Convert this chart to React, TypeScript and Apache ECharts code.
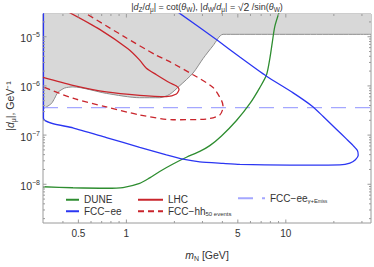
import React, { useEffect, useRef } from 'react';
import * as echarts from 'echarts';

// axis ranges (GeV, GeV^-1)
const X_MIN = 0.3;
const X_MAX = 34.2;
const Y_MIN = 1.63e-9;
const Y_MAX = 2.9e-5;

// ticks
const xMajorTicks = [0.5, 1, 5, 10];
const xTickLabels = ['0.5', '1', '5', '10'];
const xMinorTicks = [0.4, 0.6, 0.7, 0.8, 0.9, 2, 3, 4, 6, 7, 8, 9, 20, 30];
const yMajorTicks = [1e-8, 1e-7, 1e-6, 1e-5];
const yTickExponents = ['−8', '−7', '−6', '−5'];
const yMinorMultipliers = [2, 3, 4, 5, 6, 7, 8, 9];
const yMinorDecades = [1e-9, 1e-8, 1e-7, 1e-6, 1e-5];

// excluded (grey) region boundary
const excludedMass = [0.3, 0.338, 0.355, 0.372, 0.41, 0.462, 0.749, 1.212, 1.618, 1.87, 2.161, 2.619, 3.026, 3.497, 4.042, 34.2];
const excludedCoupling = [3.41e-7, 4.35e-7, 5.62e-7, 7.38e-7, 9.05e-7, 9.55e-7, 7.05e-7, 5.75e-7, 5.75e-7, 6.75e-7, 1.01e-6, 1.83e-6, 3.6e-6, 6.59e-6, 1.12e-5, 1.12e-5];

// LHC
const lhcMass = [0.428, 0.68, 1.023, 1.212, 1.335, 1.543, 1.87, 2.06, 2.139, 2.06, 1.783, 1.212, 0.749, 0.462, 0.3];
const lhcCoupling = [3.25e-5, 1.41e-5, 5.67e-6, 3.34e-6, 2.29e-6, 1.69e-6, 1.16e-6, 1.0e-6, 8.58e-7, 6.84e-7, 6.07e-7, 6.44e-7, 7.55e-7, 1.03e-6, 1.49e-6];

// FCC-hh 50 events
const fcchhMass = [0.509, 0.952, 1.543, 1.87, 2.619, 3.497, 3.948, 4.042, 3.853, 3.178, 1.961, 1.212, 0.749, 0.462, 0.3];
const fcchhCoupling = [3.56e-5, 1.04e-5, 4.19e-6, 3.11e-6, 1.69e-6, 9.26e-7, 5.07e-7, 3.74e-7, 2.57e-7, 2.12e-7, 2.05e-7, 2.57e-7, 3.74e-7, 5.62e-7, 9.55e-7];

// DUNE
const duneMass = [0.3, 0.462, 0.749, 0.952, 1.212, 1.401, 1.618, 1.961, 2.38, 2.885, 3.334, 3.948, 4.904, 5.943, 6.867, 7.566, 7.936, 8.228, 8.53, 9.17];
const duneCoupling = [8.89e-9, 8.49e-9, 8.3e-9, 8.57e-9, 1.04e-8, 1.35e-8, 1.82e-8, 2.58e-8, 3.54e-8, 4.65e-8, 6.1e-8, 9.6e-8, 1.98e-7, 4.35e-7, 9.26e-7, 1.69e-6, 3.6e-6, 7.8e-6, 1.63e-5, 3.48e-5];

// FCC-ee
const fcceeMass = [0.302, 0.302, 0.462, 0.749, 1.212, 1.783, 2.266, 2.885, 4.042, 5.145, 10.6, 21.83, 25.22, 27.31, 28.44, 28.11, 26.45, 24.05, 20.82, 17.15, 14.84, 11.11, 7.566, 5.145, 3.758, 2.161, 2.04];
const fcceeCoupling = [5e-5, 2.2e-7, 1.4e-7, 8.89e-8, 5.65e-8, 3.96e-8, 3.24e-8, 2.86e-8, 2.66e-8, 2.54e-8, 2.46e-8, 2.49e-8, 2.7e-8, 3.16e-8, 3.88e-8, 4.86e-8, 6.1e-8, 8.27e-8, 1.3e-7, 2.38e-7, 3.74e-7, 7.22e-7, 1.57e-6, 3.86e-6, 8.26e-6, 2.99e-5, 3.32e-5];

// FCC-ee gamma + E_miss
const fcceeGammaMass = [0.3, 34.2];
const fcceeGammaCoupling = [3.62e-7, 3.62e-7];

const FONT = '"Liberation Sans", Arial, Helvetica, sans-serif';
const AXIS_COLOR = '#9a9a9a';
const LABEL_COLOR = '#333333';
const RED = '#c9252c';
const GREEN = '#2e8d30';
const BLUE = '#2b36f2';
const LIGHT_BLUE = '#a4a7ff';

const zip = (a: number[], b: number[]) => a.map((v, i) => [v, b[i]]);

const legendNames: Record<string, string> = {
  'DUNE': 'DUNE',
  'FCC−ee': 'FCC−ee',
  'LHC': 'LHC',
  'FCC−hh50': 'FCC−hh{sub|50 events}',
  'FCC−eeγ': 'FCC−ee{sub|γ+E}{ss|miss}',
};

const legendCommon = {
  orient: 'vertical',
  padding: 0,
  itemGap: 0,
  itemHeight: 8,
  itemStyle: { opacity: 0, color: 'transparent', borderWidth: 0 },
  formatter: (n: string) => legendNames[n] ?? n,
  textStyle: {
    fontSize: 10,
    lineHeight: 11.5,
    color: LABEL_COLOR,
    fontFamily: FONT,
    rich: {
      sub: { fontSize: 6, lineHeight: 6, verticalAlign: 'bottom', fontFamily: FONT, color: LABEL_COLOR },
      ss: { fontSize: 4.5, lineHeight: 4, verticalAlign: 'bottom', fontFamily: FONT, color: LABEL_COLOR },
    },
  },
};

const xTickSeries = (values: number[], len: number, labels?: string[]) => ({
  type: 'custom',
  silent: true,
  clip: false,
  z: 10,
  data: values.map((v) => [v, Y_MIN]),
  renderItem: (params: any, api: any) => {
    const v = api.value(0);
    const b = api.coord([v, Y_MIN]);
    const t = api.coord([v, Y_MAX]);
    const children: any[] = [
      { type: 'line', shape: { x1: b[0], y1: b[1], x2: b[0], y2: b[1] - len }, style: { stroke: AXIS_COLOR, lineWidth: 1 } },
      { type: 'line', shape: { x1: t[0], y1: t[1], x2: t[0], y2: t[1] + len }, style: { stroke: AXIS_COLOR, lineWidth: 1 } },
    ];
    if (labels) {
      children.push({
        type: 'text',
        x: b[0],
        y: b[1] + 5,
        style: { text: labels[params.dataIndex], align: 'center', verticalAlign: 'top', fontSize: 10, fontFamily: FONT, fill: LABEL_COLOR },
      });
    }
    return { type: 'group', children };
  },
});

const yTickSeries = (values: number[], len: number, exps?: string[]) => ({
  type: 'custom',
  silent: true,
  clip: false,
  z: 10,
  data: values.map((v) => [X_MIN, v]),
  renderItem: (params: any, api: any) => {
    const v = api.value(1);
    const l = api.coord([X_MIN, v]);
    const r = api.coord([X_MAX, v]);
    const children: any[] = [
      { type: 'line', shape: { x1: l[0], y1: l[1], x2: l[0] + len, y2: l[1] }, style: { stroke: AXIS_COLOR, lineWidth: 1 } },
      { type: 'line', shape: { x1: r[0], y1: r[1], x2: r[0] - len, y2: r[1] }, style: { stroke: AXIS_COLOR, lineWidth: 1 } },
    ];
    if (exps) {
      children.push({
        type: 'text',
        x: l[0] - 3,
        y: l[1] + 1.5,
        style: {
          text: `{b|10}{s|${exps[params.dataIndex]}}`,
          align: 'right',
          verticalAlign: 'middle',
          rich: {
            b: { fontSize: 10.5, lineHeight: 14, fontFamily: FONT, fill: LABEL_COLOR },
            s: { fontSize: 7, lineHeight: 7, verticalAlign: 'top', fontFamily: FONT, fill: LABEL_COLOR },
          },
        },
      });
    }
    return { type: 'group', children };
  },
});

const yMinorTicks: number[] = [];
yMinorDecades.forEach((d) => yMinorMultipliers.forEach((k) => {
  const v = k * d;
  if (v > Y_MIN && v < Y_MAX) yMinorTicks.push(v);
}));

const curve = (name: string, data: number[][], color: string, dashed?: number[], smooth = 0.25) => ({
  name,
  type: 'line',
  data,
  symbol: 'none',
  smooth,
  z: 3,
  lineStyle: { color, width: 1.3, type: dashed ?? 'solid' },
  itemStyle: { color },
});

const option: any = {
  animation: false,
  title: {
    text: '|{i|d}{sub|Z}/{i|d}{sub|μ}| = cot({i|θ}{sub|W}), |{i|d}{sub|W}/{i|d}{sub|μ}| = {rt|√2} /sin({i|θ}{sub|W})',
    left: 207,
    top: 0,
    textAlign: 'center',
    padding: 0,
    textStyle: {
      fontSize: 9,
      lineHeight: 13,
      fontWeight: 'normal',
      color: LABEL_COLOR,
      fontFamily: FONT,
      rich: {
        i: { fontSize: 9, fontStyle: 'italic', lineHeight: 13, fontFamily: FONT, color: LABEL_COLOR },
        sub: { fontSize: 6.5, lineHeight: 6, verticalAlign: 'bottom', fontFamily: FONT, color: LABEL_COLOR },
        rt: { fontSize: 10.5, lineHeight: 13, fontFamily: FONT, color: LABEL_COLOR },
      },
    },
  },
  grid: { left: 43, right: 3, top: 14, bottom: 37, show: true, borderColor: AXIS_COLOR, borderWidth: 1, backgroundColor: 'transparent' },
  xAxis: {
    type: 'log',
    logBase: 10,
    min: X_MIN,
    max: X_MAX,
    axisLine: { show: false },
    axisTick: { show: false },
    axisLabel: { show: false },
    splitLine: { show: false },
    name: '{i|m}{sub|N} [GeV]',
    nameLocation: 'middle',
    nameGap: 25,
    nameTextStyle: {
      fontSize: 10.5,
      lineHeight: 14,
      color: LABEL_COLOR,
      fontFamily: FONT,
      verticalAlign: 'top',
      rich: {
        i: { fontSize: 10.5, fontStyle: 'italic', lineHeight: 14, fontFamily: FONT, color: LABEL_COLOR },
        sub: { fontSize: 7, lineHeight: 7, verticalAlign: 'bottom', fontFamily: FONT, color: LABEL_COLOR },
      },
    },
  },
  yAxis: {
    type: 'log',
    logBase: 10,
    min: Y_MIN,
    max: Y_MAX,
    axisLine: { show: false },
    axisTick: { show: false },
    axisLabel: { show: false },
    splitLine: { show: false },
  },
  graphic: [
    {
      type: 'text',
      x: 10,
      y: 106,
      rotation: Math.PI / 2,
      style: {
        text: '|{i|d}{sub|μ}|, GeV⁻¹',
        align: 'center',
        verticalAlign: 'middle',
        fontSize: 10.5,
        lineHeight: 14,
        fontFamily: FONT,
        fill: LABEL_COLOR,
        rich: {
          i: { fontSize: 10.5, fontStyle: 'italic', lineHeight: 14, fontFamily: FONT, fill: LABEL_COLOR },
          sub: { fontSize: 7, lineHeight: 7, verticalAlign: 'bottom', fontFamily: FONT, fill: LABEL_COLOR },
        },
      },
    },
  ],
  legend: [
    { ...legendCommon, left: 65, top: 194, itemWidth: 13, data: ['DUNE', 'FCC−ee'] },
    { ...legendCommon, left: 137, top: 194, itemWidth: 25, data: ['LHC', 'FCC−hh50'] },
    { ...legendCommon, left: 237, top: 192.5, itemWidth: 27, data: ['FCC−eeγ'] },
  ],
  series: [
    {
      name: 'excluded',
      type: 'line',
      data: zip(excludedMass, excludedCoupling),
      symbol: 'none',
      smooth: 0.25,
      z: 1,
      silent: true,
      lineStyle: { color: '#8c8c8c', width: 1 },
      areaStyle: { color: '#d8d8d8', opacity: 1, origin: 'end' },
    },
    curve('FCC−eeγ', zip(fcceeGammaMass, fcceeGammaCoupling), LIGHT_BLUE, [15, 9], 0),
    curve('DUNE', zip(duneMass, duneCoupling), GREEN),
    curve('FCC−ee', zip(fcceeMass, fcceeCoupling), BLUE, undefined, 0.2),
    curve('LHC', zip(lhcMass, lhcCoupling), RED),
    curve('FCC−hh50', zip(fcchhMass, fcchhCoupling), RED, [6, 4]),
    xTickSeries(xMajorTicks, 3.5, xTickLabels),
    xTickSeries(xMinorTicks, 2),
    yTickSeries(yMajorTicks, 3.5, yTickExponents),
    yTickSeries(yMinorTicks, 2),
  ],
};

export default function App() {
  const ref = useRef<HTMLDivElement>(null);
  useEffect(() => {
    if (!ref.current) return;
    const chart = echarts.init(ref.current, null, { renderer: 'svg' });
    chart.setOption(option);
    return () => chart.dispose();
  }, []);
  return <div ref={ref} style={{ position: 'fixed', left: 0, top: 0, width: 374, height: 267, background: '#fff' }} />;
}
